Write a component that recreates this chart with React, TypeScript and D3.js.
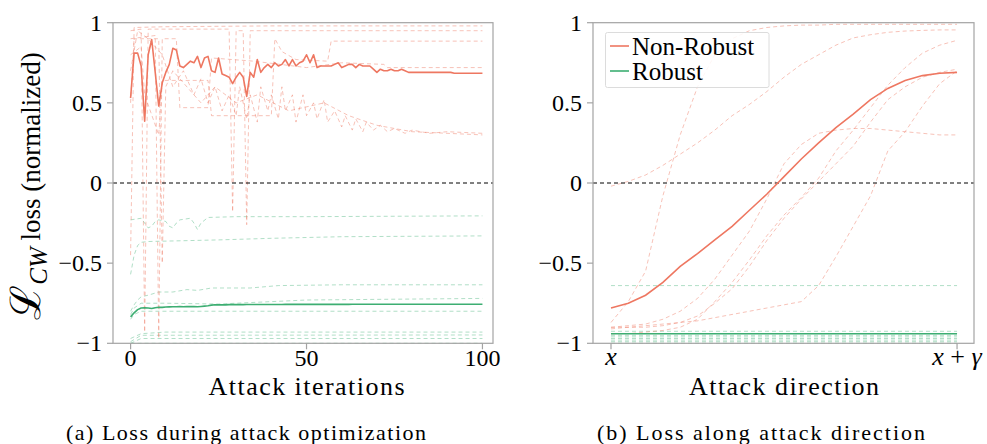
import * as d3 from 'd3';

// x positions
const iterations = d3.range(0, 101);
const directionSteps = [0, 0.05, 0.1, 0.15, 0.2, 0.25, 0.3, 0.35, 0.4, 0.45, 0.5, 0.55, 0.6, 0.65, 0.7, 0.75, 0.8, 0.85, 0.9, 0.95, 1];

// (a) mean loss per iteration
const nonRobustMeanIter = [
  0.53, 0.81, 0.81, 0.73, 0.385, 0.80, 0.895, 0.69, 0.48, 0.625,
  0.69, 0.74, 0.84, 0.83, 0.73, 0.72, 0.74, 0.76, 0.75, 0.79,
  0.72, 0.78, 0.79, 0.70, 0.69, 0.78, 0.68, 0.67, 0.66, 0.62,
  0.66, 0.69, 0.66, 0.54, 0.69, 0.66, 0.77, 0.69, 0.72, 0.74,
  0.72, 0.75, 0.73, 0.74, 0.77, 0.73, 0.77, 0.73, 0.75, 0.76,
  0.80, 0.75, 0.80, 0.72, 0.73, 0.73, 0.73, 0.73, 0.74, 0.75,
  0.72, 0.73, 0.74, 0.74, 0.72, 0.74, 0.73, 0.73, 0.73, 0.71,
  0.69, 0.71, 0.70, 0.70, 0.71, 0.70, 0.70, 0.71, 0.70, 0.69,
  0.69, 0.69, 0.69, 0.69, 0.69, 0.69, 0.69, 0.69, 0.69, 0.69,
  0.69, 0.69, 0.685, 0.685, 0.685, 0.685, 0.685, 0.685, 0.685, 0.685, 0.685,
];
const robustMeanIter = [
  -0.835, -0.81, -0.79, -0.78, -0.778, -0.78, -0.783, -0.778, -0.775, -0.776,
  -0.774, -0.773, -0.772, -0.772, -0.771, -0.772, -0.770, -0.771, -0.770, -0.772,
  -0.770, -0.768, -0.766, -0.762, -0.760, -0.760, -0.760, -0.760, -0.759, -0.759,
  -0.759, -0.759, -0.759, -0.758, -0.758, -0.758, -0.758, -0.758, -0.758, -0.758,
  -0.758, -0.758, -0.758, -0.758, -0.757, -0.757, -0.757, -0.757, -0.757, -0.757,
  -0.757, -0.757, -0.757, -0.757, -0.757, -0.757, -0.757, -0.757, -0.757, -0.757,
  -0.757, -0.757, -0.757, -0.756, -0.756, -0.756, -0.756, -0.756, -0.756, -0.756,
  -0.756, -0.756, -0.756, -0.756, -0.756, -0.756, -0.756, -0.756, -0.756, -0.756,
  -0.756, -0.756, -0.756, -0.756, -0.756, -0.756, -0.756, -0.756, -0.756, -0.756,
  -0.756, -0.756, -0.756, -0.756, -0.756, -0.756, -0.756, -0.756, -0.756, -0.756, -0.756,
];

// (a) single runs, [iteration, loss]
const nonRobustRunsIter: [number, number][][] = [
  [[0, -0.45], [1, 0.97], [10, 0.975], [40, 0.98], [100, 0.98]],
  [[0, 0.95], [3, 0.96], [4, -0.93], [5, 0.96], [28, 0.96], [29, -0.18], [30, 0.95], [32, 0.95], [33, -0.26], [34, 0.95], [100, 0.95]],
  [[0, 0.9], [7, 0.92], [8, -0.97], [9, 0.9], [13, 0.9], [14, 0.47], [22, 0.47], [23, 0.78], [35, 0.76], [50, 0.72], [60, 0.75], [72, 0.74], [73, 0.72], [100, 0.72]],
  [[0, 0.8], [3, 0.85], [4, 0.55], [8, 0.3], [9, 0.64], [12, 0.64], [22, 0.64], [23, 0.42], [40, 0.42], [41, 0.9], [43, 0.82], [47, 0.77], [56, 0.76], [57, 0.885], [100, 0.885]],
  [[0, 0.7], [2, 0.95], [5, 0.9], [9, 0.8], [12, 0.6], [15, 0.7], [18, 0.55], [20, 0.65], [22, 0.5], [24, 0.6], [26, 0.45], [28, 0.55], [30, 0.42], [31, 0.6], [33, 0.4], [34, 0.55], [36, 0.38], [37, 0.6], [39, 0.45], [40, 0.55], [42, 0.4], [43, 0.6], [44, 0.45], [46, 0.55], [47, 0.38], [49, 0.55], [50, 0.42], [52, 0.5], [53, 0.4], [55, 0.52], [56, 0.38], [58, 0.45], [60, 0.35], [61, 0.42], [63, 0.33], [64, 0.4], [66, 0.32], [67, 0.38], [69, 0.33], [71, 0.36], [73, 0.32], [75, 0.34], [78, 0.31], [80, 0.33], [85, 0.31], [90, 0.32], [100, 0.31]],
  [[0, 0.5], [1, 0.9], [8, 0.9], [9, -0.5], [10, 0.6], [12, 0.7], [20, 0.5], [24, 0.6], [30, 0.5], [36, 0.55], [45, 0.45], [55, 0.5], [62, 0.42], [70, 0.36], [80, 0.32], [100, 0.3]],
];
const robustRunsIter: [number, number][][] = [
  [[0, -0.23], [3, -0.22], [4, -0.25], [5, -0.28], [6, -0.27], [7, -0.24], [8, -0.23], [10, -0.24], [11, -0.27], [12, -0.28], [13, -0.25], [14, -0.23], [17, -0.22], [18, -0.25], [19, -0.29], [20, -0.25], [22, -0.215], [30, -0.21], [50, -0.21], [100, -0.205]],
  [[0, -0.57], [1, -0.45], [2, -0.39], [3, -0.37], [5, -0.365], [15, -0.36], [25, -0.355], [40, -0.345], [60, -0.335], [100, -0.33]],
  [[0, -0.8], [1, -0.76], [2, -0.73], [3, -0.71], [5, -0.7], [8, -0.68], [12, -0.68], [16, -0.665], [19, -0.67], [23, -0.655], [34, -0.655], [42, -0.64], [60, -0.635], [100, -0.635]],
  [[0, -0.82], [1, -0.78], [3, -0.75], [10, -0.75], [25, -0.755], [40, -0.74], [50, -0.73], [100, -0.72]],
  [[0, -0.85], [1, -0.82], [3, -0.8], [20, -0.8], [100, -0.8]],
  [[0, -0.97], [3, -0.94], [10, -0.93], [100, -0.93]],
  [[0, -0.99], [3, -0.95], [100, -0.948]],
  [[0, -1.0], [3, -0.97], [100, -0.97]],
  [[0, -1.0], [100, -1.0]],
];

// (b) loss along the attack direction
const nonRobustMeanDir = [-0.78, -0.75, -0.7, -0.62, -0.52, -0.44, -0.355, -0.27, -0.17, -0.07, 0.04, 0.15, 0.25, 0.345, 0.43, 0.52, 0.59, 0.64, 0.67, 0.685, 0.69];
const robustMeanDir = [-0.94, -0.94, -0.94, -0.94, -0.94, -0.94, -0.94, -0.94, -0.94, -0.94, -0.94, -0.94, -0.94, -0.94, -0.94, -0.94, -0.94, -0.94, -0.94, -0.94, -0.94];
const nonRobustRunsDir = [
  [-0.87, -0.74, -0.55, -0.08, 0.3, 0.6, 0.8, 0.9, 0.95, 0.97, 0.98, 0.985, 0.985, 0.99, 0.99, 0.99, 0.99, 0.99, 0.99, 0.99, 0.99],
  [-0.02, 0.01, 0.05, 0.11, 0.18, 0.25, 0.33, 0.42, 0.49, 0.57, 0.66, 0.74, 0.8, 0.86, 0.905, 0.925, 0.94, 0.948, 0.952, 0.955, 0.955],
  [-0.94, -0.94, -0.93, -0.92, -0.9, -0.85, -0.74, -0.62, -0.48, -0.33, -0.2, -0.09, 0.03, 0.2, 0.33, 0.47, 0.61, 0.72, 0.81, 0.86, 0.89],
  [-0.9, -0.9, -0.9, -0.89, -0.87, -0.83, -0.75, -0.66, -0.52, -0.36, -0.22, -0.1, 0.01, 0.12, 0.23, 0.38, 0.52, 0.6, 0.66, 0.69, 0.71],
  [-0.9, -0.89, -0.88, -0.85, -0.8, -0.72, -0.6, -0.45, -0.3, -0.1, 0.12, 0.24, 0.31, 0.33, 0.34, 0.34, 0.33, 0.32, 0.31, 0.3, 0.3],
  [-0.91, -0.9, -0.89, -0.88, -0.87, -0.86, -0.84, -0.82, -0.8, -0.78, -0.76, -0.74, -0.64, -0.46, -0.27, -0.08, 0.2, 0.32, 0.48, 0.62, 0.7],
];
const robustLevelsDir = [-0.64, -0.925, -0.95, -0.96, -0.97, -0.98, -0.99, -1.0];

const yTicks = [-1, -0.5, 0, 0.5, 1];
const yTickLabels = ['\u22121', '\u22120.5', '0', '0.5', '1'];
const iterTicks = [0, 50, 100];
const dirTicks = [0, 1];

const RED = '#ee7761';
const GREEN = '#3dae72';
const FRAME = '#a3a3a3';
const SERIF_CSS = `.cm { font-family: "Liberation Serif", "Times New Roman", Tinos, serif; }`;

const y = d3.scaleLinear().domain([-1, 1]).range([343.3, 22.7]);
const xIter = d3.scaleLinear().domain([-5, 103]).range([113, 493]);
const xDir = d3.scaleLinear().domain([-0.052, 1.049]).range([593, 974]);

function Frame(props: { x0: number, x1: number }) {
  const { x0, x1 } = props;
  return (
    <g>
      {yTicks.map((t, i) => (
        <g key={t}>
          <line x1={x0 - 6} x2={x0} y1={y(t)} y2={y(t)} stroke={FRAME} strokeWidth={1.2} />
          <text className="cm" x={x0 - 11} y={y(t) + 8} textAnchor="end" fontSize={24}>{yTickLabels[i]}</text>
        </g>
      ))}
      <line x1={x0} x2={x1} y1={y(0)} y2={y(0)} stroke="#000" strokeWidth={1} strokeDasharray="4,3" />
      <rect x={x0} y={y(1)} width={x1 - x0} height={y(-1) - y(1)} fill="none" stroke={FRAME} strokeWidth={1.2} />
    </g>
  );
}

export default function App() {
  const lineXY = d3.line<[number, number]>().x(d => d[0]).y(d => d[1]);
  const iterPath = (pts: [number, number][]) => lineXY(pts.map(p => [xIter(p[0]), y(p[1])] as [number, number])) || '';
  const dirPath = (vals: number[]) => lineXY(vals.map((v, i) => [xDir(directionSteps[i]), y(v)] as [number, number])) || '';

  return (
    <svg width={987} height={444} style={{ position: 'absolute', left: 0, top: 0, background: '#fff' }}>
      <style>{SERIF_CSS}</style>
      {/* ---------- (a) ---------- */}
      <g>
        {robustRunsIter.map((r, i) => (
          <path key={'ga' + i} d={iterPath(r)} fill="none" stroke={GREEN} strokeOpacity={0.4} strokeWidth={1} strokeDasharray="4,3" />
        ))}
        {nonRobustRunsIter.map((r, i) => (
          <path key={'ra' + i} d={iterPath(r)} fill="none" stroke={RED} strokeOpacity={0.45} strokeWidth={1} strokeDasharray="4,3" />
        ))}
        <Frame x0={113} x1={493} />
        <path d={iterPath(nonRobustMeanIter.map((v, i) => [iterations[i], v] as [number, number]))} fill="none" stroke={RED} strokeWidth={1.6} strokeLinejoin="round" />
        <path d={iterPath(robustMeanIter.map((v, i) => [iterations[i], v] as [number, number]))} fill="none" stroke={GREEN} strokeWidth={1.6} strokeLinejoin="round" />
        {iterTicks.map(t => (
          <g key={t}>
            <line x1={xIter(t)} x2={xIter(t)} y1={y(-1)} y2={y(-1) + 6} stroke={FRAME} strokeWidth={1.2} />
            <text className="cm" x={xIter(t)} y={366} textAnchor="middle" fontSize={24}>{t}</text>
          </g>
        ))}
        <text className="cm" x={xIter(50)} y={395} textAnchor="middle" fontSize={26} textLength={196} lengthAdjust="spacing">Attack iterations</text>
        <text className="cm" x={246} y={440} textAnchor="middle" fontSize={22} textLength={360} lengthAdjust="spacing">(a) Loss during attack optimization</text>
        <g transform="translate(40,186) rotate(-90)">
          <text className="cm" x={0} y={0} textAnchor="middle">
            <tspan fontSize={42}>{'\u2112'}</tspan>
            <tspan fontSize={25} fontStyle="italic" dy={7}>CW</tspan>
            <tspan fontSize={27} dy={-7}>{' loss (normalized)'}</tspan>
          </text>
        </g>
      </g>

      {/* ---------- (b) ---------- */}
      <g>
        {robustLevelsDir.map((v, i) => (
          <path key={'gb' + i} d={dirPath(directionSteps.map(() => v))} fill="none" stroke={GREEN} strokeOpacity={0.4} strokeWidth={1} strokeDasharray="4,3" />
        ))}
        {nonRobustRunsDir.map((r, i) => (
          <path key={'rb' + i} d={dirPath(r)} fill="none" stroke={RED} strokeOpacity={0.45} strokeWidth={1} strokeDasharray="4,3" />
        ))}
        <Frame x0={593} x1={974} />
        <path d={dirPath(nonRobustMeanDir)} fill="none" stroke={RED} strokeWidth={1.6} />
        <path d={dirPath(robustMeanDir)} fill="none" stroke={GREEN} strokeWidth={1.6} />
        {dirTicks.map(t => (
          <line key={t} x1={xDir(t)} x2={xDir(t)} y1={y(-1)} y2={y(-1) + 6} stroke={FRAME} strokeWidth={1.2} />
        ))}
        <text className="cm" x={xDir(0)} y={365} textAnchor="middle" fontSize={26} fontStyle="italic">x</text>
        <text className="cm" x={xDir(1)} y={365} textAnchor="middle" fontSize={26}>
          <tspan fontStyle="italic">x</tspan>
          <tspan>{' + '}</tspan>
          <tspan fontStyle="italic">{'\u03b3'}</tspan>
        </text>
        <text className="cm" x={xDir(0.5)} y={395} textAnchor="middle" fontSize={26} textLength={190} lengthAdjust="spacing">Attack direction</text>
        <text className="cm" x={761} y={440} textAnchor="middle" fontSize={22} textLength={328} lengthAdjust="spacing">(b) Loss along attack direction</text>

        {/* legend */}
        <rect x={605.5} y={32.5} width={163.5} height={55} fill="#fff" fillOpacity={0.85} stroke="#dcdcdc" strokeWidth={1} rx={2} />
        <line x1={610} x2={629} y1={46} y2={46} stroke={RED} strokeWidth={1.6} />
        <text className="cm" x={632} y={55} fontSize={25}>Non-Robust</text>
        <line x1={610} x2={629} y1={71} y2={71} stroke={GREEN} strokeWidth={1.6} />
        <text className="cm" x={632} y={80} fontSize={25}>Robust</text>
      </g>
    </svg>
  );
}
